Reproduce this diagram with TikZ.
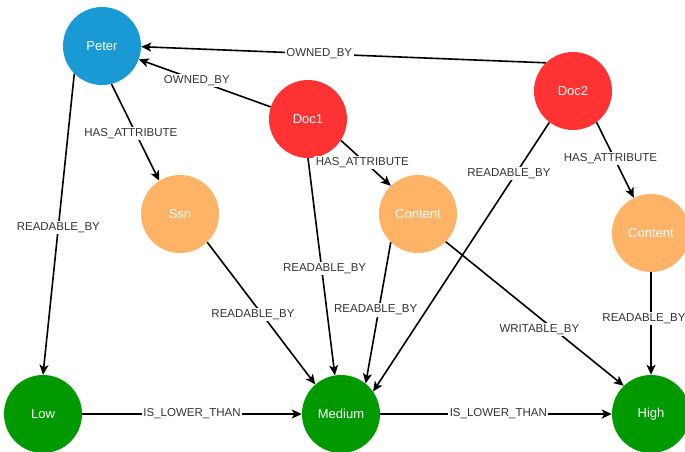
\documentclass[tikz,border=0pt]{standalone}
\usepackage{fontspec}
\setmainfont{Liberation Sans}
\usetikzlibrary{arrows.meta}

\definecolor{personblue}{RGB}{26,154,213}
\definecolor{docred}{RGB}{255,51,51}
\definecolor{attrorange}{RGB}{255,179,102}
\definecolor{levelgreen}{RGB}{0,153,0}
\definecolor{labelgray}{RGB}{51,51,51}

\begin{document}
\begin{tikzpicture}[x=1pt,y=-1pt,
  vertex/.style={circle,minimum size=78pt,inner sep=0pt,text=white,
                 font=\fontsize{13}{15}\selectfont},
  person/.style={vertex,fill=personblue},
  document/.style={vertex,fill=docred},
  attribute/.style={vertex,fill=attrorange},
  level/.style={vertex,fill=levelgreen},
  rel/.style={draw=black,line width=1.6pt,
              -{Stealth[length=10pt,width=9pt,inset=2.5pt]}},
  lbl/.style={fill=white,text=labelgray,inner sep=1.5pt,
              font=\fontsize{11.5}{13}\selectfont}
]
\useasboundingbox (0,0) rectangle (685,451);
\clip (0,0) rectangle (685,451);

% entities
\node[person]    (peter)    at (102,46)  {Peter};
\node[document]  (doc1)     at (308,119) {Doc1};
\node[document]  (doc2)     at (573,91)  {Doc2};
\node[attribute] (ssn)      at (180,214) {Ssn};
\node[attribute] (contentA) at (418,214) {Content};
\node[attribute] (contentB) at (651,233) {Content};
\node[level]     (low)      at (43,414)  {Low};
\node[level]     (medium)   at (341,414) {Medium};
\node[level]     (high)     at (651,414) {High};

% ownership
\draw[rel] (doc2.134) -- node[lbl,pos=0.56] {OWNED\_BY} (peter.-1);
\draw[rel] (doc1.162) -- node[lbl,pos=0.56] {OWNED\_BY} (peter.-20);

% attributes
\draw[rel] (peter.-76) -- node[lbl,pos=0.51,xshift=-5pt] {HAS\_ATTRIBUTE} (ssn.122);
\draw[rel] (doc1.-33) -- node[lbl,pos=0.49,xshift=-3pt] {HAS\_ATTRIBUTE} (contentA.134);
\draw[rel] (doc2.-53) -- node[lbl,pos=0.48,xshift=-4pt] {HAS\_ATTRIBUTE} (contentB.116);

% access levels
\draw[rel] (peter.225) -- node[lbl,pos=0.51] {READABLE\_BY} (low.90);
\draw[rel] (doc1.270) -- node[lbl,pos=0.507,xshift=3pt] {READABLE\_BY} (medium.99);
\draw[rel] (ssn.-46) -- node[lbl,pos=0.507,xshift=-9pt] {READABLE\_BY} (medium.131);
\draw[rel] (contentA.226) -- node[lbl,pos=0.48,xshift=-3pt] {READABLE\_BY} (medium.51);
\draw[rel] (doc2.233) -- node[lbl,pos=0.19,xshift=-7pt] {READABLE\_BY} (medium.35);
\draw[rel] (contentA.-45) -- node[lbl,pos=0.61,xshift=-15pt] {WRITABLE\_BY} (high.134);
\draw[rel] (contentB.270) -- node[lbl,pos=0.45,xshift=-7pt] {READABLE\_BY} (high.90);

% level ordering
\draw[rel] (low.0) -- node[lbl,pos=0.5] {IS\_LOWER\_THAN} (medium.180);
\draw[rel] (medium.0) -- node[lbl,pos=0.51] {IS\_LOWER\_THAN} (high.180);
\end{tikzpicture}
\end{document}
